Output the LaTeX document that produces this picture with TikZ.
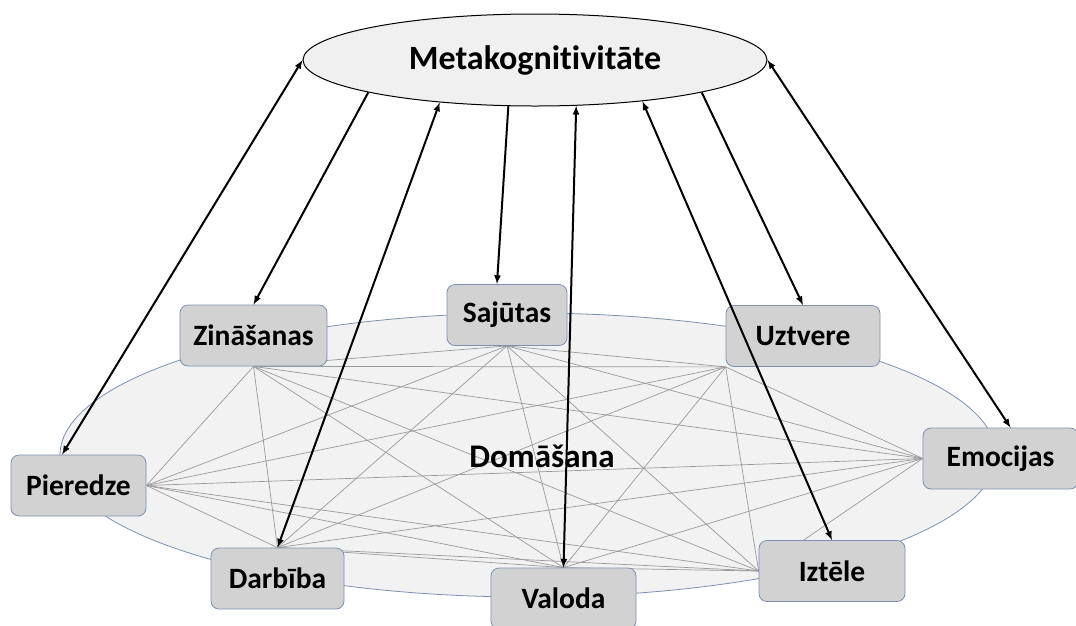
\documentclass[tikz,border=0pt]{standalone}
\usepackage{fontspec}
\setmainfont{Carlito}[Ligatures=NoCommon]
\usetikzlibrary{arrows,shapes.geometric,backgrounds}

\definecolor{boxline}{RGB}{125,145,175}
\tikzset{
  box/.style={draw=boxline,fill=gray!35,line width=0.8pt,rounded corners=8pt,minimum height=61pt,inner sep=0pt},
  link/.style={-,draw=gray!80,line width=0.7pt},
  arr/.style={draw=black,line width=2pt},
}

\begin{document}
\begin{tikzpicture}[x=1pt,y=-1pt,>=latex,font=\fontsize{29.5}{34}\selectfont\bfseries]
  \useasboundingbox (0,0) rectangle (1076,625);
  \node[anchor=base,font=\fontsize{33}{38}\selectfont\bfseries] (t) at (542,467) {Domāšana};
  \node[ellipse,draw,fill=gray!12,line width=1pt,minimum width=464pt,minimum height=92pt,inner sep=0pt,font=\fontsize{34}{40}\selectfont\bfseries] (0) at (535,60) {Metakognitivitāte};
  \node[box,minimum width=135pt] (1) at (78.5,485.5) {Pieredze};
  \node[box,minimum width=147pt] (2) at (253.5,335.5) {Zināšanas};
  \node[box,minimum width=133pt] (3) at (277.5,578.5) {Darbība};
  \node[box,minimum width=120pt] (4) at (507,315) {Sajūtas};
  \node[box,minimum width=145pt] (5) at (563.5,598.5) {Valoda};
  \node[box,minimum width=154pt] (6) at (803,336) {Uztvere};
  \node[box,minimum width=146pt] (7) at (832,571) {Iztēle};
  \node[box,minimum width=155pt] (8) at (1000.5,458.5) {Emocijas};
  \begin{pgfonlayer}{background}
    \node[ellipse,draw=boxline,fill=gray!10,line width=0.8pt,minimum width=936pt,minimum height=284pt] (d) at (528,455) {};
    \path[link]
    (1.east) edge (2.south)
    (1.east) edge (3.north)
    (1.east) edge (4.south)
    (1.east) edge (5.north)
    (1.east) edge (6.south west)
    (1.east) edge (7.west)
    (1.east) edge (8.west)
    (2.south) edge (3.north)
    (2.south) edge (4.south)
    (2.south) edge (5.north)
    (2.south) edge (6.south west)
    (2.south) edge (7.west)
    (2.south) edge (8.west)
    (3.north) edge (4.south)
    (3.north) edge (5.north)
    (3.north) edge (6.south west)
    (3.north) edge (7.west)
    (3.north) edge (8.west)
    (4.south) edge (5.north)
    (4.south) edge (6.south west)
    (4.south) edge (7.west)
    (4.south) edge (8.west)
    (5.north) edge (6.south west)
    (5.north) edge (7.west)
    (5.north) edge (8.west)
    (6.south west) edge (7.west)
    (6.south west) edge (8.west)
    (7.west) edge (8.west)
    ;
  \end{pgfonlayer}
  \path[arr]
  (0.west) edge[arr,<->] (1.118)
  (0.191) edge[arr,->] (2.north)
  (0.204) edge[arr,<->] (3.north)
  (0.240) edge[arr,->] (4.108)
  (0.312) edge[arr,<->] (5.north)
  (0.339) edge[arr,<->] (7.north)
  (0.349) edge[arr,->] (6.north)
  (0.east) edge[arr,<->] (8.72)
  ;
\end{tikzpicture}
\end{document}
